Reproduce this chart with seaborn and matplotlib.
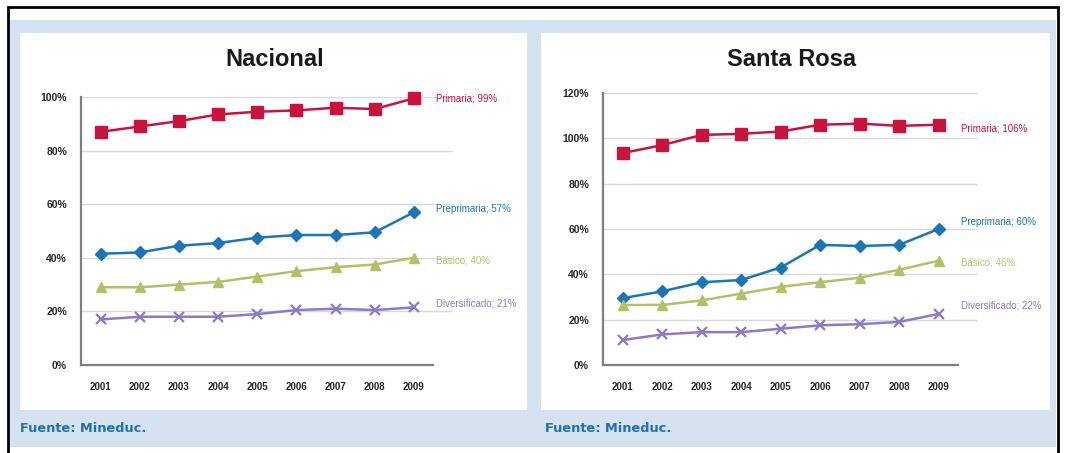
import numpy as np
import pandas as pd
import seaborn as sns
import matplotlib.pyplot as plt
from matplotlib.patches import Rectangle
from matplotlib.ticker import FuncFormatter

# Data
years = [2001, 2002, 2003, 2004, 2005, 2006, 2007, 2008, 2009]
series = ['Primaria', 'Preprimaria', 'Básico', 'Diversificado']

nac_primaria = [87, 89, 91, 93.5, 94.5, 95, 96, 95.5, 99.5]
nac_preprimaria = [41.5, 42, 44.5, 45.5, 47.5, 48.5, 48.5, 49.5, 57]
nac_basico = [29, 29, 30, 31, 33, 35, 36.5, 37.5, 40]
nac_diversificado = [17, 18, 18, 18, 19, 20.5, 21, 20.5, 21.5]
nac_labels = ['Primaria; 99%', 'Preprimaria; 57%', 'Básico; 40%', 'Diversificado; 21%']

sr_primaria = [93.5, 97, 101.5, 102, 103, 106, 106.5, 105.5, 106]
sr_preprimaria = [29.5, 32.5, 36.5, 37.5, 43, 53, 52.5, 53, 60]
sr_basico = [26.5, 26.5, 28.5, 31.5, 34.5, 36.5, 38.5, 42, 46]
sr_diversificado = [11, 13.5, 14.5, 14.5, 16, 17.5, 18, 19, 22.5]
sr_labels = ['Primaria; 106%', 'Preprimaria; 60%', 'Básico; 46%', 'Diversificado; 22%']

colors = {'Primaria': '#C8143C', 'Preprimaria': '#1C75B5',
          'Básico': '#B4BF6A', 'Diversificado': '#8C7BC0'}
markers = {'Primaria': 's', 'Preprimaria': 'D', 'Básico': '^', 'Diversificado': 'x'}
msizes = {'Primaria': 8, 'Preprimaria': 6.5, 'Básico': 6.5, 'Diversificado': 7}

sns.set_style('white')
plt.rcParams['font.family'] = ['Liberation Sans', 'DejaVu Sans']

W, H = 1066, 453
fig = plt.figure(figsize=(W / 100, H / 100), dpi=100)


def box(x0, y0, x1, y1, **kw):
    # rectangle given in pixel coords (top-left origin)
    r = Rectangle((x0 / W, 1 - y1 / H), (x1 - x0) / W, (y1 - y0) / H,
                  transform=fig.transFigure, zorder=-10, **kw)
    fig.add_artist(r)


box(8, 7, 1058, 470, facecolor='white', edgecolor='black', linewidth=2)
box(10, 20, 1056, 447, facecolor='#D5E2F0', edgecolor='none')
box(20, 33, 527, 410, facecolor='white', edgecolor='none')
box(541, 33, 1050, 410, facecolor='white', edgecolor='none')


def panel(rect, title, title_x, vals, labels, ymax, label_dy):
    x0, ytop, x1, ybot = rect
    ax = fig.add_axes([x0 / W, 1 - ybot / H, (x1 - x0) / W, (ybot - ytop) / H])
    ax.patch.set_alpha(0)
    df = pd.DataFrame({'year': np.tile(years, len(series)),
                       'serie': np.repeat(series, len(years)),
                       'value': np.concatenate(vals)})
    for s in series:
        d = df[df['serie'] == s]
        mk = markers[s]
        sns.lineplot(data=d, x='year', y='value', ax=ax, color=colors[s],
                     marker=mk, markersize=msizes[s], linewidth=1.8,
                     markeredgecolor=colors[s],
                     markeredgewidth=1.6 if mk == 'x' else 1,
                     clip_on=False, zorder=3)
    for s, v, lab, dy in zip(series, vals, labels, label_dy):
        ax.annotate(lab, (years[-1], v[-1]), xytext=(16, dy), textcoords='offset points',
                    ha='left', va='center', fontsize=7, color=colors[s])
    ax.set_xlim(years[0] - 0.5, years[-1] + 1.0)
    ax.set_ylim(0, ymax)
    ax.set_yticks(np.arange(0, ymax + 1, 20))
    ax.yaxis.set_major_formatter(FuncFormatter(lambda v, p: f'{v:.0f}%'))
    ax.set_xticks(years)
    ax.set_xticks(np.arange(years[0] - 0.5, years[-1] + 0.6, 1), minor=True)
    ax.tick_params(axis='x', which='major', length=0, pad=12)
    ax.tick_params(axis='x', which='minor', length=4, width=1.2, color='#7F7F7F', direction='out')
    ax.tick_params(axis='y', length=4, width=1.2, color='#7F7F7F', direction='out', pad=6)
    for t in ax.get_xticklabels():
        t.set_fontsize(7)
    for t in ax.get_yticklabels():
        t.set_fontsize(7.5)
    for t in ax.get_xticklabels() + ax.get_yticklabels():
        t.set_fontweight('bold')
        t.set_color('#262626')
    for g in np.arange(20, ymax + 1, 20):
        ax.axhline(g, color='#D9D9D9', linewidth=1, zorder=1)
    sns.despine(ax=ax, top=True, right=True)
    for sp in ['left', 'bottom']:
        ax.spines[sp].set_color('#7F7F7F')
        ax.spines[sp].set_linewidth(1.6)
        ax.spines[sp].set_zorder(2)
    ax.spines['bottom'].set_bounds(years[0] - 0.5, years[-1] + 0.5)
    ax.set_xlabel('')
    ax.set_ylabel('')
    fig.text(title_x / W, 1 - 60 / H, title, ha='center', va='center',
             fontsize=17, fontweight='bold', color='#1A1A1A')
    return ax


panel((81, 97, 453, 365), 'Nacional', 275,
      [nac_primaria, nac_preprimaria, nac_basico, nac_diversificado],
      nac_labels, 100, [0, 2, -2, 3])
panel((603, 93, 978, 365), 'Santa Rosa', 792,
      [sr_primaria, sr_preprimaria, sr_basico, sr_diversificado],
      sr_labels, 120, [-3, 5, -1, 6])

for x in (20, 545):
    fig.text(x / W, 1 - 428 / H, 'Fuente: Mineduc.', ha='left', va='center',
             fontsize=9.3, fontweight='bold', color='#1F6FB3', family='DejaVu Sans')

fig.savefig('out.png', dpi=100)
